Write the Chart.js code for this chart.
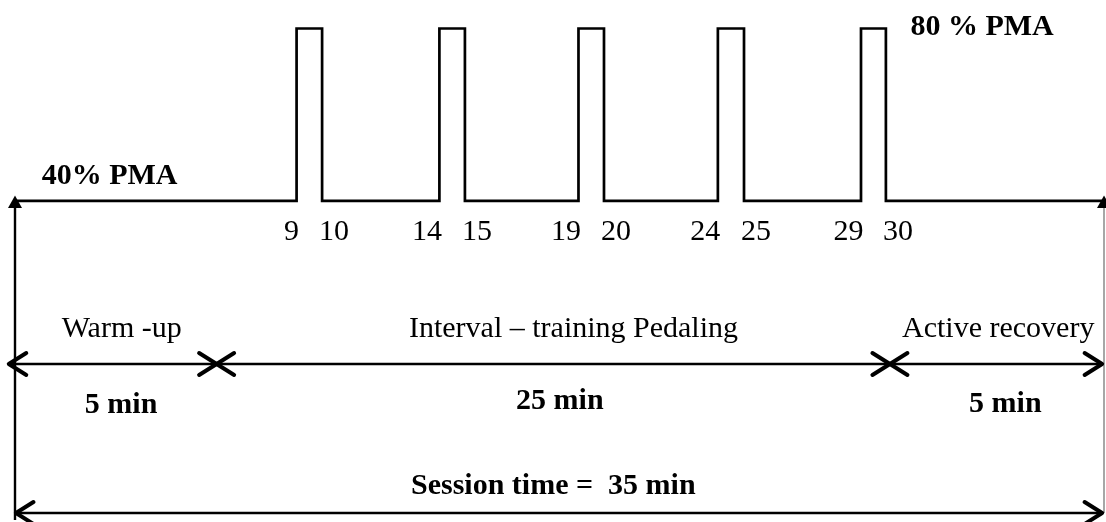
<!DOCTYPE html>
<html><head><meta charset="utf-8">
<script src="https://cdn.jsdelivr.net/npm/chart.js@4.4.1/dist/chart.umd.min.js"></script>
<style>html,body{margin:0;padding:0;background:#fff;}canvas{display:block;}</style>
</head><body>
<canvas id="c" width="1106" height="522"></canvas>
<script>
// ---- Data (x = position along the drawn 0–35 min session axis, y = % PMA) ----
const pulseStart = [9.05, 13.64, 18.11, 22.59, 27.19];
const pulseEnd   = [9.87, 14.46, 18.93, 23.43, 27.99];
const pulseStartLabels = ['9', '14', '19', '24', '29'];
const pulseEndLabels   = ['10', '15', '20', '25', '30'];
const baseLevel = 40;
const peakLevel = 80;
const sessionStart = 0;
const sessionEnd = 35;
const levelLabels = ['40% PMA', '80 % PMA'];
const phaseNames = ['Warm -up', 'Interval – training Pedaling', 'Active recovery'];
const phaseDurations = ['5 min', '25 min', '5 min'];
const phaseEdges = [-0.2, 6.48, 28.12, 34.94];
const sessionEdges = [0.03, 34.94];
const sessionLabel = 'Session time =  35 min';

// ---- layout constants (data units) ----
const phaseRowY = 2.18;
const sessionRowY = -32.38;
const yMin = -34;

const powerPts = [{x: sessionStart, y: baseLevel}];
pulseStart.forEach((s, i) => {
  powerPts.push({x: s, y: baseLevel}, {x: s, y: peakLevel},
                {x: pulseEnd[i], y: peakLevel}, {x: pulseEnd[i], y: baseLevel});
});
powerPts.push({x: sessionEnd, y: baseLevel});

const line = (data, color, w) => ({
  data, borderColor: color, borderWidth: w, pointRadius: 0, fill: false,
  tension: 0, clip: false, borderCapStyle: 'butt', borderJoinStyle: 'miter'
});

const serif = '"Liberation Serif", "Times New Roman", serif';

const decor = {
  id: 'decor',
  afterDatasetsDraw(chart) {
    const ctx = chart.ctx;
    const xs = chart.scales.x, ys = chart.scales.y;
    const X = v => xs.getPixelForValue(v), Y = v => ys.getPixelForValue(v);
    ctx.save();
    ctx.fillStyle = '#000';
    ctx.strokeStyle = '#000';
    // filled arrowheads at top of vertical lines
    [sessionStart, sessionEnd].forEach(v => {
      const px = X(v), py = Y(baseLevel);
      ctx.beginPath();
      ctx.moveTo(px, py - 5.5);
      ctx.lineTo(px - 7, py + 7);
      ctx.lineTo(px + 7, py + 7);
      ctx.closePath();
      ctx.fill();
    });
    // open chevrons
    const chevron = (tipX, tipY, dir) => {
      const L = 17.5, H = 11;
      ctx.beginPath();
      ctx.moveTo(tipX - dir * L, tipY - H);
      ctx.lineTo(tipX, tipY);
      ctx.lineTo(tipX - dir * L, tipY + H);
      ctx.lineWidth = 4;
      ctx.lineCap = 'round';
      ctx.lineJoin = 'round';
      ctx.stroke();
    };
    for (let i = 0; i < phaseEdges.length - 1; i++) {
      chevron(X(phaseEdges[i]), Y(phaseRowY), -1);
      chevron(X(phaseEdges[i + 1]), Y(phaseRowY), 1);
    }
    chevron(X(sessionEdges[0]), Y(sessionRowY), -1);
    chevron(X(sessionEdges[1]), Y(sessionRowY), 1);

    // texts
    ctx.fillStyle = '#000';
    ctx.textBaseline = 'alphabetic';
    const txt = (t, x, y, align, bold) => {
      ctx.font = (bold ? 'bold ' : '') + '30px ' + serif;
      ctx.textAlign = align;
      ctx.fillText(t, x, y);
    };
    const labY = Y(30.94);
    pulseStart.forEach((s, i) => {
      txt(pulseStartLabels[i], X(s) + 2.5, labY, 'right', false);
      txt(pulseEndLabels[i], X(pulseEnd[i]) - 3, labY, 'left', false);
    });
    txt(levelLabels[0], X(3.04), Y(43.86), 'center', true);
    txt(levelLabels[1], X(31.08), Y(78.49), 'center', true);
    const nameX = [3.43, 17.95, 31.60];
    const durX = [3.41, 17.51, 31.83];
    const durY = [-9.18, -8.32, -8.88];
    phaseNames.forEach((n, i) => {
      txt(n, X(nameX[i]), Y(8.38), 'center', false);
      txt(phaseDurations[i], X(durX[i]), Y(durY[i]), 'center', true);
    });
    txt(sessionLabel, X(17.30), Y(-28.04), 'center', true);
    ctx.restore();
  }
};

new Chart(document.getElementById('c'), {
  type: 'line',
  data: {
    datasets: [
      line(powerPts, '#000', 2.7),
      line([{x: sessionStart, y: baseLevel}, {x: sessionStart, y: yMin}], '#000', 2.4),
      line([{x: sessionEnd, y: baseLevel}, {x: sessionEnd, y: sessionRowY}], '#8a8a8a', 1.5),
      line([{x: phaseEdges[0], y: phaseRowY}, {x: phaseEdges[3], y: phaseRowY}], '#000', 2.5),
      line([{x: sessionEdges[0], y: sessionRowY}, {x: sessionEdges[1], y: sessionRowY}], '#000', 2.5)
    ]
  },
  options: {
    responsive: false,
    animation: false,
    devicePixelRatio: 1,
    layout: {padding: {top: 28.5, bottom: 2, left: 15, right: 2}},
    scales: {
      x: {type: 'linear', min: sessionStart, max: sessionEnd, display: false},
      y: {type: 'linear', min: yMin, max: peakLevel, display: false}
    },
    plugins: {legend: {display: false}, tooltip: {enabled: false}}
  },
  plugins: [decor]
});
</script>
</body></html>
